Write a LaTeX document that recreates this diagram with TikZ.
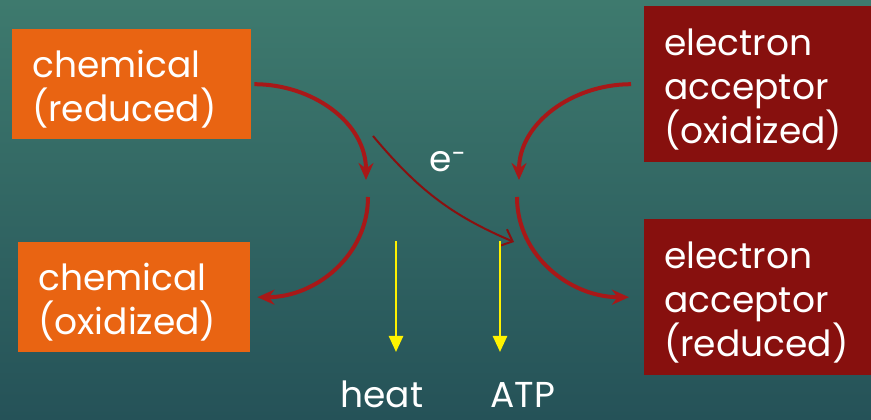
\documentclass[tikz,border=0pt]{standalone}
\usepackage{fontspec}
\setmainfont{Poppins}
\usepackage{xcolor}
\usepackage{tikz}
\usetikzlibrary{arrows.meta,positioning}
\definecolor{bgtop}{RGB}{62,122,110}
\definecolor{bgbot}{RGB}{37,82,88}
\definecolor{chemorange}{RGB}{233,100,18}
\definecolor{accred}{RGB}{135,16,14}
\definecolor{arcred}{RGB}{168,24,24}
\definecolor{elred}{RGB}{138,16,16}

\begin{document}
\begin{tikzpicture}[x=1pt, y=1pt,
      font=\fontsize{36}{44}\selectfont,
      box/.style={anchor=north west, text=white, align=left,
                  inner xsep=20pt, inner ysep=0pt,
                  execute at begin node=\rule{0pt}{38pt}},
      chembox/.style={box, fill=chemorange},
      accbox/.style={box, fill=accred, minimum width=227pt,
                     minimum height=156pt, text width=187pt},
      redarc/.style={-{Stealth[length=17pt,width=15pt]}, line width=4pt,
                     arcred},
      yarrow/.style={-{Triangle[length=16pt,width=14pt]}, line width=2.5pt,
                     yellow},
      lbl/.style={text=white, anchor=base, inner sep=0pt}]
    \useasboundingbox (0,0) rectangle (871,420);
    \shade[top color=bgtop, bottom color=bgbot] (0,0) rectangle (871,420);
    % boxes
    \node[chembox, minimum width=239pt, minimum height=110pt,
          text width=199pt] (cr) at (12,391) {chemical\\(reduced)};
    \node[chembox, minimum width=232pt, minimum height=110pt,
          text width=192pt] (co) at (18,178) {chemical\\(oxidized)};
    \node[accbox] (ao) at (644,414) {electron\\acceptor\\(oxidized)};
    \node[accbox] (ar) at (644,201) {electron\\acceptor\\(reduced)};
    % free ends in the middle
    \coordinate (ml1) at (366,240);
    \coordinate (ml2) at (368,223);
    \coordinate (mr1) at (519,240);
    \coordinate (mr2) at (517,223);
    \coordinate (es) at (373,284);
    \coordinate (ee) at (514,178);
    \coordinate (h1) at (396,179);
    \coordinate (h2) at (396,68);
    \coordinate (a1) at (500,179);
    \coordinate (a2) at (500,68);
    % red arcs
    \draw[redarc] ([xshift=3pt]cr.east) to[out=0, in=90] (ml1);
    \draw[redarc] (ml2) to[out=-90, in=0] ([xshift=7pt]co.east);
    \draw[redarc] ([xshift=-13pt]ao.west) to[out=180, in=90] (mr1);
    \draw[redarc] (mr2) to[out=-90, in=180] ([xshift=-15pt]ar.west);
    % electron
    \draw[-{Straight Barb[length=10pt,width=18pt]}, line width=2pt, elred]
      (es) to[out=-50, in=157] (ee);
    \node[lbl] (e) at (448,248) {e\textsuperscript{-}};
    % heat and ATP
    \draw[yarrow] (h1) -- (h2);
    \draw[yarrow] (a1) -- (a2);
    \node[lbl] (heat) at (382,12) {heat};
    \node[lbl] (atp) at (523,12) {ATP};
  \end{tikzpicture}
\end{document}
